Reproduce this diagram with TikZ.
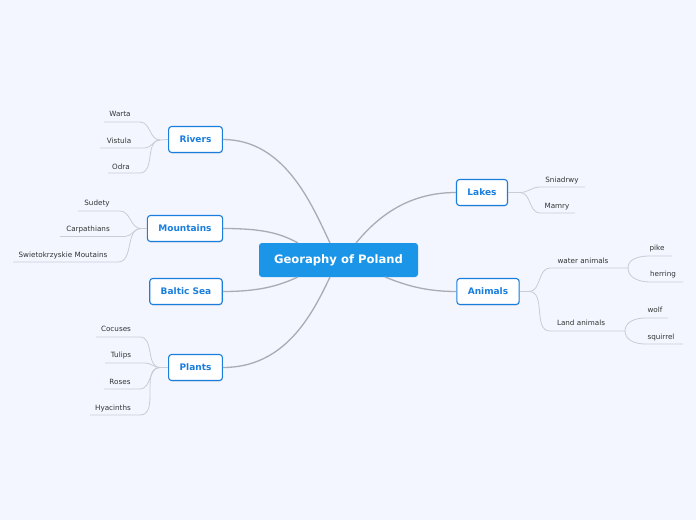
\documentclass[tikz,border=0pt]{standalone}
\usepackage{fontspec}
\setmainfont{DejaVu Sans}
\usetikzlibrary{shadows}
\definecolor{bgc}{HTML}{F3F6FE}
\definecolor{cblue}{HTML}{1B95E8}
\definecolor{mblue}{HTML}{1A7EDF}
\definecolor{mainline}{HTML}{A9ACB6}
\definecolor{leafline}{HTML}{C9CCD4}
\definecolor{leaftext}{HTML}{333333}
\tikzset{
  centre/.style={fill=cblue,rounded corners=3pt,text=white,font=\bfseries\fontsize{11.6}{13}\selectfont,minimum width=159pt,minimum height=34pt,inner sep=0pt},
  topic/.style={draw=mblue,fill=white,rounded corners=3pt,line width=1.1pt,text=mblue,font=\bfseries\fontsize{9}{11}\selectfont,minimum height=26pt,inner xsep=11pt,drop shadow={opacity=0.18,shadow xshift=0.6pt,shadow yshift=-1pt}},
  leaf/.style={text=leaftext,font=\fontsize{7.2}{8}\selectfont,inner sep=1pt,yshift=-1.3pt},
  mainconn/.style={draw=mainline,line width=1.3pt},
  leafconn/.style={draw=leafline,line width=0.8pt},
}
\begin{document}
\begin{tikzpicture}[x=1pt,y=-1pt]
\fill[bgc] (0,0) rectangle (696,520);
\useasboundingbox (0,0) rectangle (696,520);
% nodes
\node[centre] (c) at (338.5,260) {Georaphy of Poland};
\node[topic] (rivers) at (195.5,139.5) {Rivers};
\node[topic] (mount) at (185,228.5) {Mountains};
\node[topic] (baltic) at (186,291.5) {Baltic Sea};
\node[topic] (plants) at (195.5,367.5) {Plants};
\node[topic] (lakes) at (482,192.5) {Lakes};
\node[topic] (animals) at (488,291.5) {Animals};
% main connectors
\coordinate (cR) at (330,243);
\coordinate (cM) at (298,243);
\coordinate (cB) at (298,277);
\coordinate (cP) at (330,277);
\coordinate (cL) at (356,243);
\coordinate (cA) at (385,277);
\draw[mainconn] (rivers.east) .. controls (285,139.5) and (312,205) .. (cR);
\draw[mainconn] (mount.east) .. controls (262,228.5) and (280,233) .. (cM);
\draw[mainconn] (baltic.east) .. controls (262,291.5) and (280,285) .. (cB);
\draw[mainconn] (plants.east) .. controls (285,367.5) and (312,315) .. (cP);
\draw[mainconn] (lakes.west) .. controls (405,192.5) and (375,220) .. (cL);
\draw[mainconn] (animals.west) .. controls (425,291.5) and (405,285) .. (cA);
% Rivers leaves
\coordinate (jR) at (160,140);
\draw[leafconn] (rivers.west) -- (jR);
\node[leaf] (warta) at (120,113) {Warta};
\node[leaf] (vistula) at (119,139.5) {Vistula};
\node[leaf] (odra) at (121,166) {Odra};
\coordinate (wa1) at (104,122); \coordinate (wa2) at (140,122);
\coordinate (vi1) at (100,148); \coordinate (vi2) at (145,148);
\coordinate (od1) at (108,173); \coordinate (od2) at (140,173);
\draw[leafconn] (wa1) -- (wa2) to[out=0,in=180] (jR);
\draw[leafconn] (vi1) -- (vi2) to[out=0,in=180] (jR);
\draw[leafconn] (od1) -- (od2) to[out=0,in=180] (jR);
% Mountains leaves
\coordinate (jM) at (141,228.5);
\draw[leafconn] (mount.west) -- (jM);
\node[leaf] (sudety) at (97,202) {Sudety};
\node[leaf] (carp) at (88,228) {Carpathians};
\node[leaf] (swiet) at (63,254) {Swietokrzyskie Moutains};
\coordinate (su1) at (78,211); \coordinate (su2) at (120,211);
\coordinate (ca1) at (60,236.5); \coordinate (ca2) at (125,236.5);
\coordinate (sw1) at (13,262); \coordinate (sw2) at (118,262);
\draw[leafconn] (su1) -- (su2) to[out=0,in=180] (jM);
\draw[leafconn] (ca1) -- (ca2) to[out=0,in=180] (jM);
\draw[leafconn] (sw1) -- (sw2) to[out=0,in=180] (jM);
% Plants leaves
\coordinate (jP) at (160,367.5);
\draw[leafconn] (plants.west) -- (jP);
\node[leaf] (cocuses) at (116,328) {Cocuses};
\node[leaf] (tulips) at (121,354) {Tulips};
\node[leaf] (roses) at (120,381) {Roses};
\node[leaf] (hyac) at (113,407) {Hyacinths};
\coordinate (co1) at (96,337); \coordinate (co2) at (140,337);
\coordinate (tu1) at (105,363); \coordinate (tu2) at (145,363);
\coordinate (ro1) at (104,389); \coordinate (ro2) at (140,389);
\coordinate (hy1) at (90,415); \coordinate (hy2) at (140,415);
\draw[leafconn] (co1) -- (co2) to[out=0,in=180] (jP);
\draw[leafconn] (tu1) -- (tu2) to[out=0,in=180] (jP);
\draw[leafconn] (ro1) -- (ro2) to[out=0,in=180] (jP);
\draw[leafconn] (hy1) -- (hy2) to[out=0,in=180] (jP);
% Lakes leaves
\coordinate (jL) at (520,192.5);
\draw[leafconn] (lakes.east) -- (jL);
\node[leaf] (snia) at (562,179) {Sniadrwy};
\node[leaf] (mamry) at (557,205) {Mamry};
\coordinate (sn1) at (540,187); \coordinate (sn2) at (585,187);
\coordinate (ma1) at (540,213); \coordinate (ma2) at (575,213);
\draw[leafconn] (jL) to[out=0,in=180] (sn1) -- (sn2);
\draw[leafconn] (jL) to[out=0,in=180] (ma1) -- (ma2);
% Animals leaves
\coordinate (jA) at (529,291.5);
\draw[leafconn] (animals.east) -- (jA);
\node[leaf] (water) at (583,260) {water animals};
\node[leaf] (land) at (581,322) {Land animals};
\coordinate (wt1) at (550,268); \coordinate (wt2) at (628,268);
\coordinate (la1) at (550,331); \coordinate (la2) at (625,331);
\draw[leafconn] (jA) to[out=0,in=180] (wt1) -- (wt2);
\draw[leafconn] (jA) to[out=0,in=180] (la1) -- (la2);
\node[leaf] (pike) at (657,247) {pike};
\node[leaf] (herring) at (663,273) {herring};
\coordinate (pi1) at (650,256); \coordinate (pi2) at (672,256);
\coordinate (he1) at (650,282); \coordinate (he2) at (683,282);
\draw[leafconn] (wt2) to[out=90,in=180] (pi1) -- (pi2);
\draw[leafconn] (wt2) to[out=-90,in=180] (he1) -- (he2);
\node[leaf] (wolf) at (655,309) {wolf};
\node[leaf] (squirrel) at (661,336) {squirrel};
\coordinate (wo1) at (645,318); \coordinate (wo2) at (668,318);
\coordinate (sq1) at (645,344); \coordinate (sq2) at (683,344);
\draw[leafconn] (la2) to[out=90,in=180] (wo1) -- (wo2);
\draw[leafconn] (la2) to[out=-90,in=180] (sq1) -- (sq2);
\end{tikzpicture}
\end{document}
